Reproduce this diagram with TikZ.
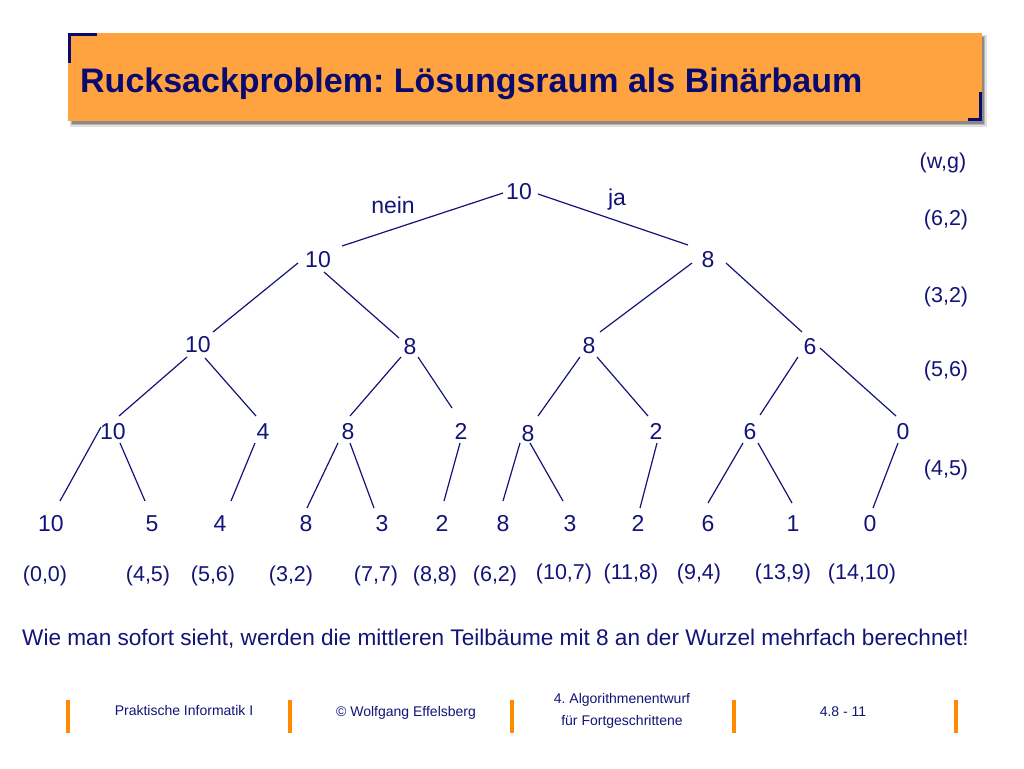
\documentclass[tikz,border=0pt]{standalone}
\usepackage{fontspec}
\setmainfont{Liberation Sans}
\usetikzlibrary{calc}
\definecolor{navy}{RGB}{20,20,120}
\definecolor{titlenavy}{RGB}{10,10,110}
\definecolor{titleorange}{RGB}{255,163,64}
\definecolor{barorange}{RGB}{255,140,0}
\newcommand{\tedge}[6]{\draw[edge] ($(#1)+(#2,#3)$) -- ($(#4)+(#5,#6)$);}
\begin{document}
\frenchspacing
\begin{tikzpicture}[x=1pt,y=-1pt,
  word/.style={text=navy,font=\fontsize{23}{27}\selectfont,inner sep=0pt},
  num/.style={word,text height=16.5pt,text depth=0pt},
  lbl/.style={text=navy,font=\fontsize{21.5}{26}\selectfont,inner sep=0pt},
  edge/.style={draw=navy,line width=1.2pt},
  bar/.style={draw=barorange,line width=4pt},
  foot/.style={text=navy,font=\fontsize{14}{22}\selectfont,inner sep=0pt,align=center},
  bracket/.style={draw=titlenavy,line width=3pt}]
\useasboundingbox[fill=white] (0,0) rectangle (1024,768);
% title bar
\fill[black,opacity=0.12] (70,35) rectangle (987,127);
\fill[black,opacity=0.18] (71,36) rectangle (985,125);
\fill[black,opacity=0.25] (72,37) rectangle (984,124);
\fill[titleorange] (68,33) rectangle (982,121);
\draw[bracket] (69.5,63) -- (69.5,34.5) -- (97,34.5);
\draw[bracket] (980.5,92) -- (980.5,119.5) -- (968,119.5);
\node[anchor=base west,inner sep=0pt,text=titlenavy,font=\fontsize{34}{40}\selectfont\bfseries] (title) at (80,92) {Rucksackproblem: Lösungsraum als Binärbaum};
% tree nodes
\node[num] (r) at (519,191) {10};
\node[word] (nein) at (393,205) {nein};
\node[word] (ja) at (617,200) {ja};
\node[num] (a) at (318,259) {10};
\node[num] (b) at (708,259) {8};
\node[num] (c) at (198,344) {10};
\node[num] (d) at (410,346) {8};
\node[num] (e) at (589,345) {8};
\node[num] (f) at (810,346) {6};
\node[num] (g) at (113,431) {10};
\node[num] (h) at (263,431) {4};
\node[num] (i) at (348,431) {8};
\node[num] (j) at (461,431) {2};
\node[num] (k) at (528,433) {8};
\node[num] (l) at (656,431) {2};
\node[num] (m) at (750,431) {6};
\node[num] (n) at (903,431) {0};
\node[num] (l1) at (51,523) {10};
\node[num] (l2) at (152,523) {5};
\node[num] (l3) at (220,523) {4};
\node[num] (l4) at (306,523) {8};
\node[num] (l5) at (382,523) {3};
\node[num] (l6) at (442,523) {2};
\node[num] (l7) at (503,523) {8};
\node[num] (l8) at (570,523) {3};
\node[num] (l9) at (638,523) {2};
\node[num] (l10) at (708,523) {6};
\node[num] (l11) at (793,523) {1};
\node[num] (l12) at (870,523) {0};
% leaf labels
\node[lbl] (p1) at (45,576) {(0,0)};
\node[lbl] (p2) at (148,576) {(4,5)};
\node[lbl] (p3) at (213,576) {(5,6)};
\node[lbl] (p4) at (291,576) {(3,2)};
\node[lbl] (p5) at (376,576) {(7,7)};
\node[lbl] (p6) at (435,576) {(8,8)};
\node[lbl] (p7) at (495,576) {(6,2)};
\node[lbl] (p8) at (564,574) {(10,7)};
\node[lbl] (p9) at (631,574) {(11,8)};
\node[lbl] (p10) at (699,574) {(9,4)};
\node[lbl] (p11) at (783,574) {(13,9)};
\node[lbl] (p12) at (862,574) {(14,10)};
% right labels
\node[lbl] (wg) at (943,163) {(w,g)};
\node[lbl] (q1) at (946,220) {(6,2)};
\node[lbl] (q2) at (946,297) {(3,2)};
\node[lbl] (q3) at (946,371) {(5,6)};
\node[lbl] (q4) at (946,470) {(4,5)};
% edges
\tedge{r}{-16}{2}{a}{24}{-13}
\tedge{r}{19}{3}{b}{-20}{-14}
\tedge{a}{-20}{4}{c}{15}{-12}
\tedge{a}{6}{13}{d}{-11}{-8}
\tedge{b}{-16}{4}{e}{11}{-13}
\tedge{b}{18}{4}{f}{-8}{-14}
\tedge{c}{-11}{13}{g}{6}{-15}
\tedge{c}{7}{14}{h}{-7}{-15}
\tedge{d}{-9}{11}{i}{2}{-15}
\tedge{d}{8}{11}{j}{-9}{-23}
\tedge{e}{-9}{12}{k}{10}{-17}
\tedge{e}{8}{12}{l}{-8}{-15}
\tedge{f}{-12}{11}{m}{10}{-16}
\tedge{f}{10}{2}{n}{-7}{-15}
\tedge{g}{-12}{-4}{l1}{9}{-22}
\tedge{g}{7}{12}{l2}{-7}{-22}
\tedge{h}{-8}{12}{l3}{11}{-22}
\tedge{i}{-10}{12}{l4}{1}{-15}
\tedge{i}{2}{12}{l5}{-8}{-15}
\tedge{j}{-1}{12}{l6}{2}{-22}
\tedge{k}{-8}{10}{l7}{0}{-22}
\tedge{k}{2}{10}{l8}{-7}{-22}
\tedge{l}{1}{12}{l9}{2}{-15}
\tedge{m}{-7}{12}{l10}{0}{-20}
\tedge{m}{8}{12}{l11}{-1}{-20}
\tedge{n}{-5}{12}{l12}{3}{-15}
% sentence
\node[anchor=base west,inner sep=0pt,text=navy,font=\fontsize{22.6}{27}\selectfont] (note) at (22,645) {Wie man sofort sieht, werden die mittleren Teilbäume mit 8 an der Wurzel mehrfach berechnet!};
% footer
\draw[bar] (68,700) -- (68,733);
\draw[bar] (290,700) -- (290,733);
\draw[bar] (512,700) -- (512,733);
\draw[bar] (734,700) -- (734,733);
\draw[bar] (956,700) -- (956,733);
\node[foot,anchor=base] (f1) at (184,715) {Praktische Informatik I};
\node[foot,anchor=base] (f2) at (406,716) {© Wolfgang Effelsberg};
\node[foot] (f3) at (622,711) {4. Algorithmenentwurf\\für Fortgeschrittene};
\node[foot,anchor=base] (f4) at (843,716) {4.8 - 11};
\end{tikzpicture}
\end{document}
